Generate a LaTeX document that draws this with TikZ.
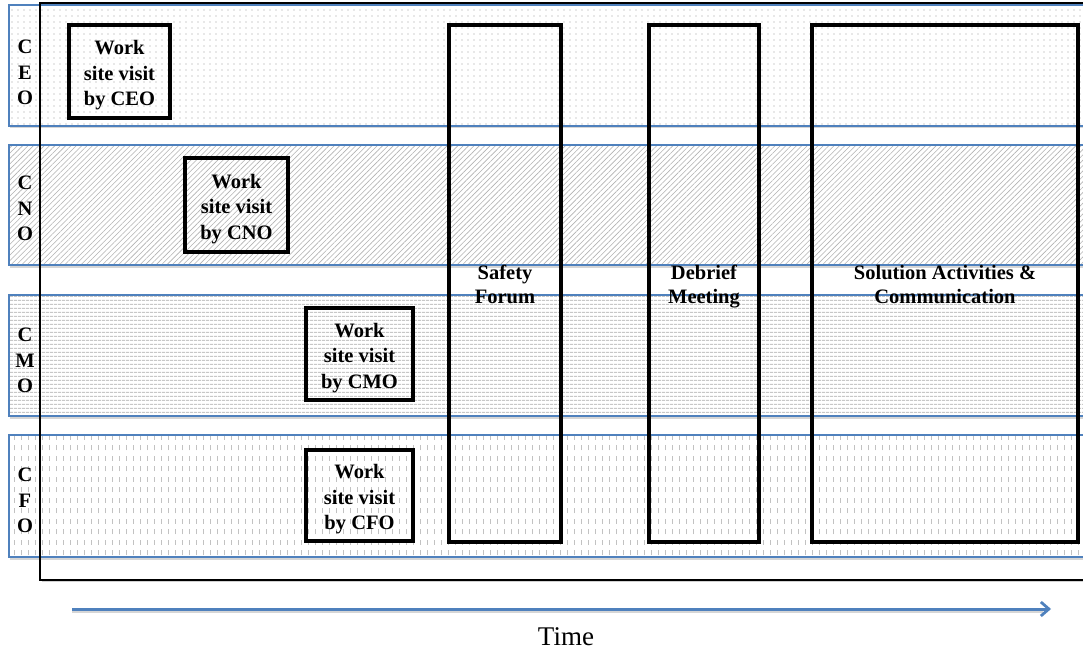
\documentclass[tikz,border=0pt]{standalone}
\usepackage{fontspec}
\setmainfont{Liberation Serif}
\usetikzlibrary{patterns,patterns.meta,arrows.meta}
\definecolor{bandblue}{HTML}{4F81BD}
\pgfdeclarepattern{
  name=vdashes,
  type=uncolored,
  bottom left={\pgfpoint{-0.6pt}{-0.5pt}},
  top right={\pgfpoint{7.2pt}{10.5pt}},
  tile size={\pgfpoint{7pt}{10.5pt}},
  code={
    \pgfsetlinewidth{1pt}
    \pgfpathmoveto{\pgfpoint{0pt}{2pt}}
    \pgfpathlineto{\pgfpoint{0pt}{7pt}}
    \pgfusepath{stroke}
  }
}
\newcommand{\roletop}{\rule{0pt}{18pt}}
\newcommand{\visittop}{\rule{0pt}{25pt}}
\newcommand{\eventtop}{\rule{0pt}{23pt}}
\newcommand{\botstrut}{\rule[-7.5pt]{0pt}{7.5pt}}
\tikzset{
  bandshadow/.style={fill=black!16},
  bandbase/.style={fill=white},
  bandedge/.style={draw=bandblue, line width=1.1pt},
  dotsband/.style={pattern={Dots[distance=6pt, radius=0.6pt]}, pattern color=black!38},
  diagband/.style={pattern={Lines[angle=45, distance=3.8pt, line width=0.6pt]}, pattern color=black!30},
  horizband/.style={pattern={Lines[angle=0, distance=4pt, line width=1pt]}, pattern color=black!22},
  dashband/.style={pattern=vdashes, pattern color=black!24},
  visitbox/.style={draw=black, line width=4pt, inner sep=0pt, align=center,
    font=\bfseries\fontsize{20.5}{25.5}\selectfont},
  eventbox/.style={draw=black, line width=4pt, inner sep=0pt, align=center,
    font=\bfseries\fontsize{20.5}{24}\selectfont},
  rolelabel/.style={inner sep=0pt, align=center, font=\bfseries\fontsize{20.5}{25.5}\selectfont},
  timearrow/.style={draw=bandblue, line width=3pt, -{Straight Barb[length=8pt,width=14pt,line width=2.8pt]}},
  timelabel/.style={inner sep=0pt, font=\fontsize{27}{30}\selectfont}
}
\begin{document}
\begin{tikzpicture}[x=1pt,y=-1pt]
\useasboundingbox (0,0) rectangle (1083,652);
\clip (0,0) rectangle (1083,652);
% bands
\foreach \ya/\yb/\sty in {5/126/dotsband, 145/265/diagband, 295/416/horizband, 435/557/dashband}{
  \fill[bandshadow] (10,\ya+2.5) rectangle (1095,\yb+2.5);
  \fill[bandbase] (9,\ya) rectangle (1095,\yb);
  \path[\sty] (9,\ya) rectangle (1095,\yb);
  \draw[bandedge] (9,\ya) rectangle (1095,\yb);
}
% outer frame
\draw[black!18, line width=1.5pt] (41.5,581.5) -- (1095,581.5);
\draw[black, line width=1.2pt] (40,3) rectangle (1095,580);
% role labels
\node[rolelabel] (ceo) at (25,74) {\roletop C\\E\\O\botstrut};
\node[rolelabel] (cno) at (25,210) {\roletop C\\N\\O\botstrut};
\node[rolelabel] (cmo) at (25,362) {\roletop C\\M\\O\botstrut};
\node[rolelabel] (cfo) at (25,502) {\roletop C\\F\\O\botstrut};
% visit boxes
\node[visitbox, minimum width=101pt, minimum height=93pt] (vceo) at (119.5,71.5) {\visittop Work\\site visit\\by CEO\botstrut};
\node[visitbox, minimum width=103pt, minimum height=94pt] (vcno) at (236.5,205) {\visittop Work\\site visit\\by CNO\botstrut};
\node[visitbox, minimum width=107pt, minimum height=92pt] (vcmo) at (359.5,354) {\visittop Work\\site visit\\by CMO\botstrut};
\node[visitbox, minimum width=107pt, minimum height=91pt] (vcfo) at (359.5,495.5) {\visittop Work\\site visit\\by CFO\botstrut};
% event boxes
\node[eventbox, minimum width=112pt, minimum height=516pt] (sf) at (505,283.5) {\eventtop Safety\\Forum\botstrut};
\node[eventbox, minimum width=110pt, minimum height=516pt] (dm) at (704,283.5) {\eventtop Debrief\\Meeting\botstrut};
\node[eventbox, minimum width=266pt, minimum height=516pt] (sa) at (945,283.5) {\eventtop Solution Activities \&\\Communication\botstrut};
% time arrow
\coordinate (tstart) at (72,609);
\coordinate (tend) at (1051,609);
\draw[black!16, line width=3pt] ([yshift=-2pt]tstart) -- ([yshift=-2pt,xshift=-8pt]tend);
\draw[timearrow] (tstart) -- (tend);
\node[timelabel] (time) at (566,637) {Time};
\end{tikzpicture}
\end{document}
